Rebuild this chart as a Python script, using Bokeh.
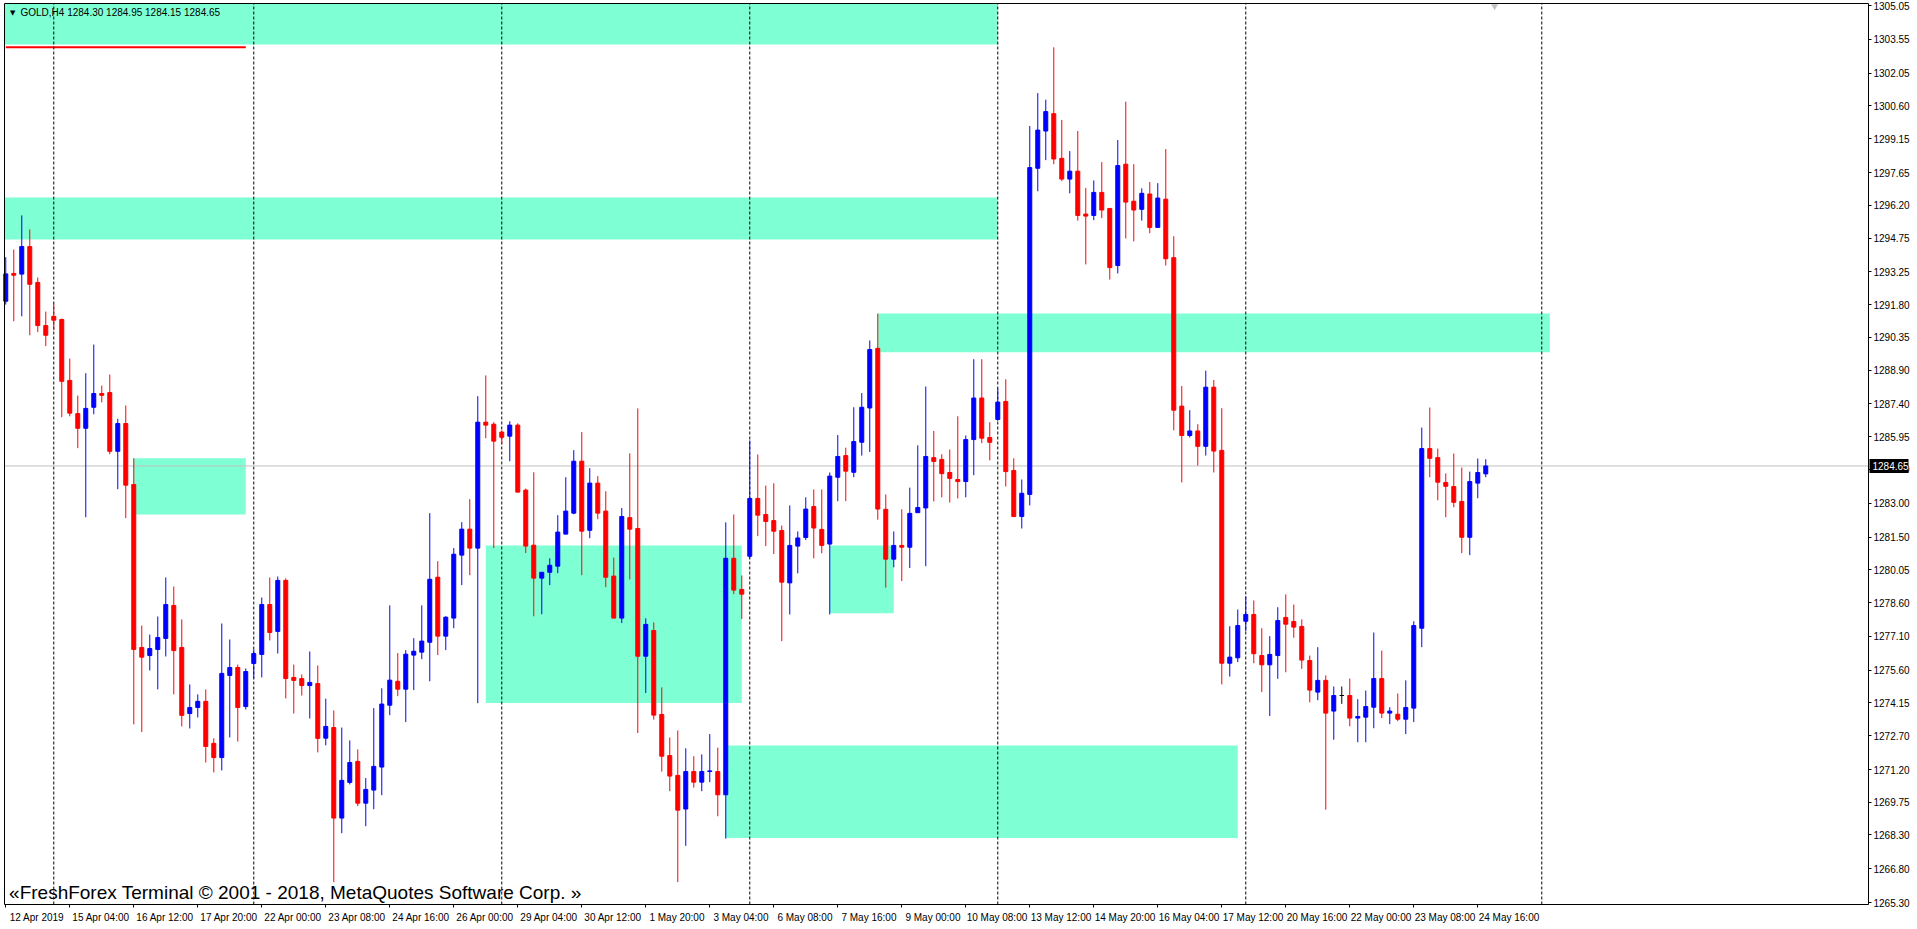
from bokeh.plotting import figure
from bokeh.models import Range1d, FixedTicker, NumeralTickFormatter, Label
from bokeh.core.properties import value
from bokeh.embed import file_html
from bokeh.resources import INLINE

# ---------------- data (GOLD, H4) ----------------
opens = [1291.95, 1293.18, 1293.15, 1294.37, 1292.78, 1290.87, 1291.28, 1291.14, 1288.44, 1286.97,
         1286.32, 1287.25, 1287.86, 1287.90, 1285.30, 1286.53, 1283.83, 1276.61, 1276.25, 1276.52,
         1277.01, 1278.47, 1276.61, 1273.68, 1273.95, 1274.22, 1272.36, 1271.73, 1275.37, 1275.72,
         1273.99, 1275.90, 1276.30, 1278.51, 1277.32, 1279.58, 1275.28, 1275.23, 1274.92, 1275.01,
         1272.59, 1273.06, 1269.05, 1270.63, 1271.56, 1269.71, 1270.29, 1271.31, 1274.05, 1275.11,
         1274.76, 1276.27, 1276.40, 1276.84, 1279.72, 1277.11, 1277.91, 1280.70, 1281.85, 1281.01,
         1286.59, 1286.50, 1286.15, 1285.97, 1286.46, 1283.58, 1281.14, 1279.68, 1279.94, 1280.21,
         1281.63, 1282.56, 1284.86, 1281.80, 1283.89, 1282.65, 1279.77, 1277.91, 1282.36, 1281.88,
         1276.22, 1277.36, 1273.64, 1271.82, 1270.94, 1269.45, 1271.11, 1270.64, 1271.11, 1271.11,
         1270.08, 1280.56, 1279.18, 1280.65, 1283.21, 1282.50, 1282.23, 1281.79, 1279.47, 1281.10,
         1281.48, 1282.85, 1281.84, 1281.19, 1284.15, 1285.11, 1284.37, 1285.70, 1287.22, 1289.86,
         1282.73, 1280.52, 1281.13, 1281.05, 1282.58, 1282.79, 1285.02, 1284.94, 1284.36, 1284.05,
         1283.96, 1285.82, 1287.66, 1285.91, 1286.71, 1287.51, 1284.45, 1282.41, 1283.39, 1297.84,
         1299.49, 1300.26, 1298.28, 1297.36, 1297.71, 1295.81, 1295.75, 1296.77, 1296.06, 1293.53,
         1298.02, 1296.38, 1296.02, 1296.70, 1295.22, 1296.47, 1293.88, 1287.30, 1286.00, 1286.20,
         1285.52, 1288.14, 1285.34, 1275.91, 1276.15, 1277.77, 1278.07, 1276.25, 1275.84, 1276.25,
         1277.94, 1277.76, 1277.54, 1276.03, 1274.63, 1275.15, 1273.79, 1274.48, 1274.48, 1273.48,
         1273.52, 1273.96, 1275.23, 1273.70, 1273.65, 1273.43, 1273.92, 1277.46, 1285.42, 1285.02,
         1283.92, 1283.74, 1283.08, 1281.49, 1283.89, 1284.30]

highs = [1293.90, 1294.24, 1295.75, 1295.13, 1293.00, 1291.49, 1291.85, 1291.18, 1289.41, 1287.77,
         1288.76, 1290.03, 1288.21, 1288.70, 1286.74, 1287.33, 1284.99, 1277.58, 1277.18, 1277.98,
         1279.71, 1279.31, 1277.85, 1274.97, 1274.53, 1274.75, 1272.58, 1277.67, 1276.96, 1275.85,
         1275.68, 1276.52, 1278.82, 1279.71, 1279.75, 1279.67, 1275.85, 1275.41, 1276.43, 1275.81,
         1274.34, 1273.82, 1273.06, 1272.49, 1272.09, 1270.82, 1273.92, 1274.80, 1278.47, 1276.36,
         1276.49, 1277.02, 1278.47, 1282.56, 1280.43, 1277.99, 1281.01, 1282.16, 1283.18, 1287.74,
         1288.66, 1286.59, 1286.23, 1286.63, 1286.54, 1283.65, 1284.37, 1279.94, 1280.56, 1282.47,
         1284.15, 1285.35, 1286.15, 1284.55, 1284.20, 1283.53, 1280.59, 1282.79, 1285.21, 1287.20,
         1277.90, 1277.72, 1274.84, 1272.62, 1272.93, 1272.14, 1271.79, 1271.87, 1272.77, 1272.17,
         1282.15, 1282.50, 1279.80, 1285.78, 1285.16, 1283.78, 1283.88, 1282.01, 1282.90, 1281.75,
         1283.26, 1283.61, 1283.61, 1284.36, 1286.02, 1285.46, 1287.25, 1287.88, 1290.21, 1291.40,
         1283.39, 1281.75, 1282.73, 1283.69, 1285.56, 1288.17, 1286.20, 1285.17, 1285.38, 1286.85,
         1286.00, 1289.38, 1289.38, 1286.59, 1288.09, 1288.49, 1284.99, 1284.05, 1299.71, 1301.17,
         1300.88, 1303.20, 1299.98, 1298.60, 1299.49, 1296.97, 1297.30, 1298.11, 1296.06, 1299.09,
         1300.79, 1298.02, 1296.95, 1297.23, 1297.18, 1298.69, 1294.83, 1288.19, 1287.12, 1286.50,
         1288.87, 1288.46, 1287.21, 1277.55, 1278.29, 1278.87, 1278.69, 1277.46, 1277.11, 1278.39,
         1278.96, 1278.51, 1277.85, 1276.25, 1276.62, 1275.37, 1274.88, 1274.88, 1275.23, 1274.32,
         1274.70, 1277.27, 1276.47, 1273.96, 1274.57, 1275.15, 1277.77, 1286.35, 1287.24, 1285.42,
         1284.32, 1285.20, 1284.58, 1284.40, 1284.98, 1284.95]

lows = [1291.80, 1291.06, 1291.28, 1290.44, 1290.58, 1289.96, 1290.66, 1286.81, 1286.85, 1285.44,
        1282.38, 1286.94, 1287.47, 1285.17, 1283.62, 1282.34, 1273.20, 1272.86, 1275.59, 1274.75,
        1276.21, 1274.53, 1273.11, 1273.02, 1273.51, 1271.51, 1271.07, 1271.16, 1272.62, 1272.44,
        1273.86, 1275.23, 1275.28, 1276.92, 1276.34, 1274.35, 1273.68, 1274.48, 1273.46, 1271.96,
        1272.27, 1266.21, 1268.38, 1270.54, 1269.58, 1268.69, 1269.44, 1270.06, 1273.61, 1274.45,
        1273.30, 1274.72, 1276.09, 1275.11, 1276.27, 1276.49, 1277.46, 1279.37, 1279.81, 1274.14,
        1285.88, 1281.01, 1285.61, 1284.86, 1283.49, 1280.79, 1277.99, 1278.08, 1279.37, 1279.90,
        1281.63, 1282.51, 1279.81, 1281.45, 1282.29, 1279.28, 1277.91, 1277.69, 1279.62, 1272.82,
        1274.59, 1273.41, 1271.11, 1270.24, 1266.21, 1267.82, 1270.40, 1270.24, 1270.64, 1269.13,
        1268.14, 1278.97, 1277.87, 1280.56, 1281.54, 1281.10, 1280.75, 1276.89, 1278.07, 1279.89,
        1281.37, 1280.56, 1280.78, 1278.07, 1283.09, 1283.09, 1284.15, 1285.11, 1285.27, 1282.27,
        1279.26, 1280.16, 1279.55, 1280.13, 1282.58, 1280.21, 1283.08, 1283.26, 1283.03, 1283.21,
        1283.26, 1284.24, 1285.66, 1284.90, 1286.65, 1283.74, 1282.41, 1281.88, 1282.90, 1296.82,
        1298.20, 1298.02, 1297.27, 1296.73, 1295.52, 1293.58, 1295.54, 1295.63, 1292.91, 1293.18,
        1294.73, 1294.60, 1295.52, 1294.96, 1295.22, 1293.53, 1286.23, 1283.92, 1285.91, 1284.67,
        1285.11, 1284.36, 1274.97, 1275.32, 1275.96, 1277.33, 1275.91, 1274.63, 1273.57, 1275.22,
        1275.51, 1277.04, 1275.66, 1274.18, 1274.27, 1269.42, 1272.52, 1274.11, 1273.12, 1272.41,
        1272.41, 1273.03, 1273.48, 1273.21, 1273.34, 1272.77, 1273.30, 1276.62, 1284.15, 1283.13,
        1282.38, 1282.82, 1280.79, 1280.70, 1283.22, 1284.15]

closes = [1293.16, 1293.10, 1294.37, 1292.70, 1290.87, 1290.44, 1291.11, 1288.40, 1286.99, 1286.32,
          1287.20, 1287.86, 1287.78, 1285.30, 1286.53, 1283.80, 1276.52, 1276.18, 1276.56, 1277.05,
          1278.51, 1276.47, 1273.60, 1273.95, 1274.22, 1272.22, 1271.73, 1275.46, 1275.72, 1273.95,
          1275.54, 1276.34, 1278.51, 1277.27, 1279.58, 1275.23, 1275.15, 1274.92, 1275.06, 1272.58,
          1273.11, 1269.05, 1270.72, 1271.51, 1269.71, 1270.32, 1271.34, 1274.10, 1275.16, 1274.76,
          1276.31, 1276.44, 1276.89, 1279.63, 1277.11, 1277.95, 1280.74, 1281.85, 1281.01, 1286.59,
          1286.46, 1285.75, 1285.92, 1286.46, 1283.49, 1281.10, 1279.68, 1279.94, 1280.25, 1281.72,
          1282.65, 1284.86, 1281.76, 1283.89, 1282.56, 1279.72, 1277.91, 1282.41, 1281.85, 1276.22,
          1277.63, 1273.61, 1271.79, 1270.91, 1269.40, 1271.11, 1270.64, 1271.11, 1271.14, 1270.08,
          1280.56, 1279.15, 1278.97, 1283.21, 1282.47, 1282.19, 1281.76, 1279.50, 1281.13, 1281.46,
          1282.74, 1281.90, 1281.13, 1284.20, 1285.07, 1284.42, 1285.73, 1287.25, 1289.81, 1282.74,
          1280.52, 1281.13, 1281.05, 1282.55, 1282.81, 1285.07, 1284.85, 1284.31, 1284.10, 1283.96,
          1285.82, 1287.66, 1285.88, 1285.70, 1287.48, 1284.40, 1282.41, 1283.44, 1297.87, 1299.53,
          1300.35, 1298.25, 1297.36, 1297.71, 1295.75, 1295.72, 1296.77, 1295.99, 1293.44, 1297.96,
          1296.34, 1295.99, 1296.73, 1295.22, 1296.52, 1293.83, 1287.12, 1286.00, 1286.20, 1285.52,
          1288.14, 1285.31, 1275.91, 1276.18, 1277.58, 1278.07, 1276.33, 1275.84, 1276.30, 1277.80,
          1277.64, 1277.51, 1276.05, 1274.72, 1275.15, 1273.70, 1274.48, 1274.48, 1273.48, 1273.55,
          1273.99, 1275.23, 1273.70, 1273.79, 1273.43, 1273.95, 1277.58, 1285.42, 1284.99, 1283.93,
          1283.75, 1283.04, 1281.49, 1283.96, 1284.36, 1284.65]

# time axis labels (bar index -> label)
x_tick_bars = [0, 8, 16, 24, 32, 40, 48, 56, 64, 72, 80, 88, 96, 104, 112, 120,
               128, 136, 144, 152, 160, 168, 176, 184]
x_tick_labels = ["12 Apr 2019", "15 Apr 04:00", "16 Apr 12:00", "17 Apr 20:00", "22 Apr 00:00",
                 "23 Apr 08:00", "24 Apr 16:00", "26 Apr 00:00", "29 Apr 04:00", "30 Apr 12:00",
                 "1 May 20:00", "3 May 04:00", "6 May 08:00", "7 May 16:00", "9 May 00:00",
                 "10 May 08:00", "13 May 12:00", "14 May 20:00", "16 May 04:00", "17 May 12:00",
                 "20 May 16:00", "22 May 00:00", "23 May 08:00", "24 May 16:00"]

# price scale labels
y_tick_values = [1305.05, 1303.55, 1302.05, 1300.60, 1299.15, 1297.65, 1296.20, 1294.75, 1293.25,
                 1291.80, 1290.35, 1288.90, 1287.40, 1285.95, 1284.50, 1283.00, 1281.50, 1280.05,
                 1278.60, 1277.10, 1275.60, 1274.15, 1272.70, 1271.20, 1269.75, 1268.30, 1266.80,
                 1265.30]

# weekly period separators (bar index)
separator_bars = [6, 31, 62, 93, 124, 155, 192]

# supply / demand zones (bar index / price)
zone_left = [-2, -2, 16, 60, 103, 109, 90]
zone_right = [124, 124, 30, 92, 111, 193, 154]
zone_top = [1306.00, 1296.54, 1284.99, 1281.13, 1281.13, 1291.40, 1272.27]
zone_bottom = [1303.32, 1294.68, 1282.50, 1274.15, 1278.12, 1289.69, 1268.17]

# red horizontal level
level_start, level_end, level_price = 0, 30, 1303.20

# current bid
bid = 1284.65
symbol = "GOLD,H4"

# ---------------- geometry of the chart window ----------------
FRAME_W, FRAME_H = 1914, 926           # whole drawing surface
CHART_L, CHART_T = 4, 3                # chart area offset inside the surface (px)
CHART_W, CHART_H = 1864, 901           # chart area size (px)

x_start, x_end = -0.16, 232.84         # bars visible in the chart area
y_start, y_end = 1265.22, 1305.14      # prices visible in the chart area
PX = CHART_W / (x_end - x_start)
PY = CHART_H / (y_end - y_start)

fx0 = x_start - CHART_L / PX
fx1 = fx0 + FRAME_W / PX
fy1 = y_end + CHART_T / PY
fy0 = fy1 - FRAME_H / PY

n = len(opens)
idx = list(range(n))
colors = ["#0000FF" if c > o else ("#FF0000" if c < o else "#000000") for o, c in zip(opens, closes)]
tops = [max(o, c) for o, c in zip(opens, closes)]
bottoms = [min(o, c) for o, c in zip(opens, closes)]

FONT = "Liberation Sans"

p = figure(frame_width=FRAME_W, frame_height=FRAME_H,
           x_range=Range1d(fx0, fx1), y_range=Range1d(fy0, fy1),
           y_axis_location="right", output_backend="svg", toolbar_location=None,
           min_border_left=0, min_border_top=0, min_border_right=0, min_border_bottom=0,
           background_fill_color="white", border_fill_color="white",
           outline_line_color=None)
p.xgrid.visible = False
p.ygrid.visible = False

# zones (clipped to the chart area)
p.quad(left=[max(v, x_start) for v in zone_left], right=[min(v, x_end) for v in zone_right],
       top=[min(v, y_end) for v in zone_top], bottom=[max(v, y_start) for v in zone_bottom],
       fill_color="#7FFFD4", line_color=None)

# red level line
p.segment(x0=[level_start], y0=[level_price], x1=[level_end], y1=[level_price],
          line_color="#FF0000", line_width=2)

# separators
ns = len(separator_bars)
p.segment(x0=separator_bars, y0=[y_start] * ns, x1=separator_bars, y1=[y_end] * ns,
          line_color="black", line_width=1, line_dash="3 2")

# bid line
p.segment(x0=[x_start], y0=[bid], x1=[x_end], y1=[bid], line_color="#C0C0C0", line_width=1)

# candles
p.segment(x0=idx, y0=lows, x1=idx, y1=highs, line_color=colors, line_width=1)
p.vbar(x=idx, width=0.5, top=tops, bottom=bottoms, fill_color=colors, line_color=colors, line_width=1)

# chart shift marker
p.scatter(x=[n + 0.1], y=[y_end - 0.12], marker="inverted_triangle", size=7,
          fill_color="#C0C0C0", line_color=None)

# chart border (top and left; bottom and right are the axis lines)
p.segment(x0=[x_start, x_start], y0=[y_end, y_start], x1=[x_end, x_start], y1=[y_end, y_end],
          line_color="black", line_width=1)

# time axis
xt = [b + 3.9 for b in x_tick_bars]
xax = p.xaxis[0]
xax.fixed_location = y_start
xax.bounds = (x_start, x_end)
xax.ticker = FixedTicker(ticks=xt, minor_ticks=x_tick_bars)
xax.major_label_overrides = dict(zip(xt, x_tick_labels))
xax.major_tick_line_color = None
xax.minor_tick_line_color = "black"
xax.minor_tick_out = 3
xax.minor_tick_in = 0
xax.major_label_standoff = 1
xax.major_label_text_font = FONT
xax.major_label_text_font_size = "10px"
xax.major_label_text_color = "black"
xax.axis_line_color = "black"

# price axis
yax = p.yaxis[0]
yax.fixed_location = x_end
yax.bounds = (y_start, y_end)
yax.ticker = FixedTicker(ticks=y_tick_values, minor_ticks=[])
yax.formatter = NumeralTickFormatter(format="0.00")
yax.major_tick_out = 3
yax.major_tick_in = 0
yax.major_tick_line_color = "black"
yax.major_label_standoff = 2
yax.major_label_text_font = FONT
yax.major_label_text_font_size = "10px"
yax.major_label_text_color = "black"
yax.axis_line_color = "black"

# bid price box on the scale (drawn over the axis labels)
p.quad(left=[x_end + 1 / PX], right=[x_end + 40 / PX], top=[bid + 7 / PY], bottom=[bid - 7 / PY],
       fill_color="black", line_color=None, level="overlay")
p.text(x=[x_end + 4 / PX], y=[bid], text=[f"{bid:.2f}"], text_color="white",
       text_font=value(FONT), text_font_size="10px", text_align="left",
       text_baseline="middle", level="overlay")

# header
last = n - 1
p.add_layout(Label(x=0.85, y=1304.74, text="\u25BC", text_align="center", text_baseline="middle",
                   text_color="black", text_font="DejaVu Sans", text_font_size="7px"))
p.add_layout(Label(x=1.84, y=1304.74,
                   text=f"{symbol}  {opens[last]:.2f} {highs[last]:.2f} {lows[last]:.2f} {closes[last]:.2f}",
                   text_align="left", text_baseline="middle", text_color="black",
                   text_font=FONT, text_font_size="10px"))

# copyright
p.add_layout(Label(x=0.41, y=1265.75,
                   text="\u00ABFreshForex Terminal \u00A9 2001 - 2018, MetaQuotes Software Corp. \u00BB",
                   text_align="left", text_baseline="middle", text_color="black",
                   text_font=FONT, text_font_size="19px"))

open("out.html", "w").write(file_html(p, INLINE))
